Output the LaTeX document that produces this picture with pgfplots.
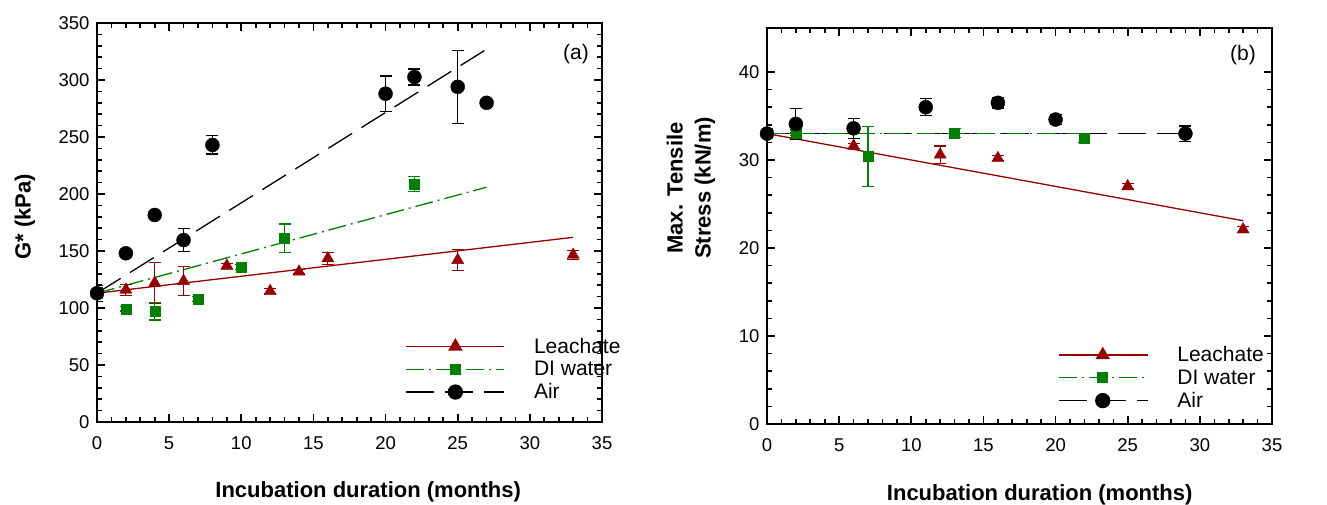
\documentclass[border=0pt]{standalone}
\usepackage{fontspec}
\setmainfont{Liberation Sans}
\usepackage{pgfplots}
\pgfplotsset{compat=1.18}
\definecolor{leach}{RGB}{150,0,0}
\definecolor{diw}{RGB}{0,128,0}
\newcommand{\lf}{\fontsize{21}{24}\selectfont}

\pgfplotsset{
  panel/.style={
    scale only axis, width=505pt,
    xmin=0, xmax=35, xtick={0,5,...,35}, minor x tick num=4, minor y tick num=4,
    axis line style={draw=black, line width=2.5pt},
    tick align=inside, major tick length=8pt, minor tick length=5pt,
    tick style={draw=black, line width=1.6pt},
  },
  errs/.style={error bars/.cd, y dir=both, y explicit,
    error bar style={line width=1.2pt, solid},
    error mark options={rotate=90, mark size=6pt, line width=1.2pt, solid}},
  fit/.style={line width=1.3pt, no marks},
}

\begin{document}
\begin{tikzpicture}
\useasboundingbox (0pt,0pt) rectangle (1327pt,504pt);

% ---------- (a) G* ----------
\begin{axis}[panel, at={(97pt,82pt)}, anchor=south west, height=399pt,
  /pgf/number format/assume math mode=true,
  tick label style={font=\fontsize{18.5}{20}\selectfont},
  xticklabel style={yshift=-11pt}, yticklabel style={xshift=-4pt},
  label style={font=\bfseries\fontsize{22}{28}\selectfont},
  ymin=0, ymax=350, ytick={0,50,...,350},
  xlabel={Incubation duration (months)},
  xlabel style={at={(rel axis cs:0.537,-0.188)}, anchor=base},
  ylabel={G* (kPa)},
  ylabel style={at={(rel axis cs:-0.1426,0.514)}, anchor=center},
  legend style={draw=none, fill=none, inner sep=0pt,
      row sep=2.5pt, /tikz/every odd column/.append style={column sep=27pt}},
  legend cell align=left,
  legend style={at={(rel axis cs:0.611,0.216)}, anchor=north west},
  legend image code/.code={\draw[mark repeat=2,mark phase=2,#1] plot coordinates {(0pt,0pt) (49pt,0pt) (98pt,0pt)};},
]
\addlegendimage{leach, line width=1.3pt, mark=triangle*, mark size=7pt, mark options={solid}}
\addlegendentry{\lf Leachate}
\addlegendimage{diw, line width=1.3pt, dash pattern=on 18pt off 5pt on 2pt off 5pt, mark=square*, mark size=5pt, mark options={solid}}
\addlegendentry{\lf DI water}
\addlegendimage{black, line width=1.3pt, dash pattern=on 28pt off 11pt, mark=*, mark size=7pt, mark options={solid}}
\addlegendentry{\lf Air}

\addplot[fit, leach, forget plot] coordinates {(0,113) (33,162)};
\addplot[fit, diw, dash pattern=on 18pt off 5pt on 2pt off 5pt, forget plot] coordinates {(0,113) (27,206)};
\addplot[fit, black, dash pattern=on 28pt off 11pt, forget plot] coordinates {(0,113) (27,327)};

\addplot[leach, only marks, mark=triangle*, mark size=7pt, forget plot, errs] table[y error=e] {
x y e
0 113 5
2 116 4.7
4 122 18
6 123.6 12.5
9 137 2
12 114.8 2
14 131.8 2
16 143.5 5
25 142 9
33 146.5 4
};
\addplot[diw, only marks, mark=square*, mark size=5pt, forget plot, errs] table[y error=e] {
x y e
0 113 3
2 99.3 2
4 97 7.6
7 107.8 2
10 136 2
13 161 12.6
22 209 6.6
};
\addplot[black, only marks, mark=*, mark size=7pt, forget plot, errs] table[y error=e] {
x y e
0 113 7
2 148 2
4 181.6 3
6 159.6 10
8 243 8
20 288 15.5
22 302.6 7
25 294 32
27 280 3
};
\node[font=\fontsize{21}{24}\selectfont] at (rel axis cs:0.9485,0.922) {(a)};
\end{axis}

% ---------- (b) tensile stress ----------
\begin{axis}[panel, at={(767pt,80pt)}, anchor=south west, height=396pt,
  /pgf/number format/assume math mode=true,
  tick label style={font=\fontsize{18.5}{20}\selectfont},
  xticklabel style={yshift=-11pt}, yticklabel style={xshift=-4pt},
  label style={font=\bfseries\fontsize{22}{28}\selectfont},
  ymin=0, ymax=45, ytick={0,10,...,40}, minor y tick num=4,
  xlabel={Incubation duration (months)},
  xlabel style={at={(rel axis cs:0.54,-0.192)}, anchor=base},
  ylabel={Max. Tensile\\Stress (kN/m)},
  ylabel style={at={(rel axis cs:-0.1505,0.596)}, anchor=center, align=center},
  legend style={draw=none, fill=none, inner sep=0pt,
      row sep=2.5pt, /tikz/every odd column/.append style={column sep=27pt}},
  legend cell align=left,
  legend style={at={(rel axis cs:0.576,0.201)}, anchor=north west},
  legend image code/.code={\draw[mark repeat=2,mark phase=2,#1] plot coordinates {(0pt,0pt) (44pt,0pt) (89pt,0pt)};},
]
\addlegendimage{leach, line width=1.3pt, mark=triangle*, mark size=7pt, mark options={solid}}
\addlegendentry{\lf Leachate}
\addlegendimage{diw, line width=1.3pt, dash pattern=on 18pt off 5pt on 2pt off 5pt, mark=square*, mark size=5pt, mark options={solid}}
\addlegendentry{\lf DI water}
\addlegendimage{black, line width=1.3pt, dash pattern=on 28pt off 11pt, mark=*, mark size=7pt, mark options={solid}}
\addlegendentry{\lf Air}

\addplot[fit, leach, forget plot] coordinates {(0,33.0) (33,23.1)};
\addplot[fit, black, dash pattern=on 28pt off 11pt, forget plot] coordinates {(0,33.0) (29,33.0)};
\addplot[fit, diw, dash pattern=on 18pt off 5pt on 2pt off 5pt, forget plot] coordinates {(0,33.0) (22,33.0)};

\addplot[leach, only marks, mark=triangle*, mark size=7pt, forget plot, errs] table[y error=e] {
x y e
0 33 0.3
2 32.8 0.3
6 31.6 0.3
12 30.6 1
16 30.2 0.3
25 27 0.3
33 22.1 0.3
};
\addplot[diw, only marks, mark=square*, mark size=5pt, forget plot, errs] table[y error=e] {
x y e
0 33 0.3
2 33.1 0.3
7 30.4 3.4
13 33.1 0.5
22 32.5 0.5
};
\addplot[black, only marks, mark=*, mark size=7pt, forget plot, errs] table[y error=e] {
x y e
0 33 0.4
2 34.1 1.75
6 33.6 1.15
11 36 0.95
16 36.5 0.6
20 34.6 0.6
29 33 0.87
};
\node[font=\fontsize{21}{24}\selectfont] at (rel axis cs:0.9426,0.932) {(b)};
\end{axis}
\end{tikzpicture}
\end{document}
